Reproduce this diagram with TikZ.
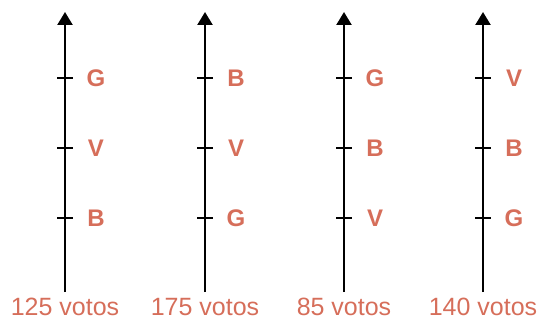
\documentclass[tikz,border=0pt]{standalone}
\usepackage{fontspec}
\setmainfont{Liberation Sans}
\usetikzlibrary{arrows.meta}
\definecolor{salmon}{RGB}{214,110,90}
\tikzset{
  axis/.style={line width=2.4pt,-{Triangle[length=13pt,width=15pt]}},
  tick/.style={line width=1.8pt},
  cand/.style={text=salmon,font=\fontsize{24}{24}\selectfont\bfseries},
  votes/.style={text=salmon,font=\fontsize{25}{25}\selectfont,inner sep=0pt,anchor=base}
}
\begin{document}
\begin{tikzpicture}[x=1pt,y=-1pt]
    \useasboundingbox (0,0) rectangle (545,320);

    % Preference columns
    \foreach \x/\v/\a/\b/\c [count=\i] in {65/125/G/V/B, 205/175/B/V/G, 344/85/G/B/V, 483/140/V/B/G}
    {
        \coordinate (bot\i) at (\x,292);
        \coordinate (top\i) at (\x,12);
        \draw[axis] (bot\i) -- (top\i);
        % ticks and candidates
        \foreach \y/\cn [count=\j] in {78/\a, 148/\b, 218/\c}
        {
            \draw[tick] (\x-8,\y) -- (\x+8,\y);
            \node[cand] (c\i\j) at (\x+31,\y) {\cn};
        }
        % number of votes
        \node[votes] (v\i) at (\x,315) {\v{} votos};
    }
\end{tikzpicture}
\end{document}
